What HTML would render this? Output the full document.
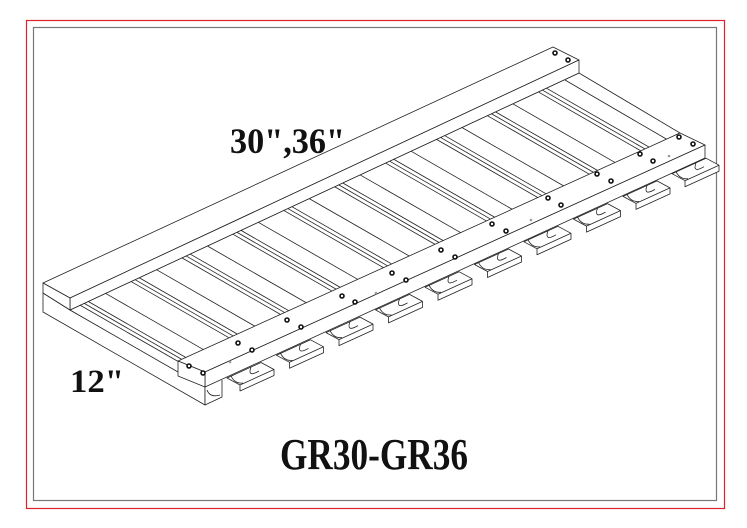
<!DOCTYPE html>
<html><head><meta charset="utf-8"><style>
html,body{margin:0;padding:0;background:#fff;}
svg{display:block;}
text{font-family:"Liberation Serif",serif;font-weight:bold;fill:#111;}
</style></head><body>
<svg width="747" height="528" viewBox="0 0 747 528" xmlns="http://www.w3.org/2000/svg">
<defs>
<g id="blk" fill="#fff" stroke="#222" stroke-width="0.8" stroke-linejoin="round">
<polygon points="0,0 13,7 13,13 47,-2.5 47,-8.5 34,-15.5"/>
<line x1="13" y1="7" x2="47" y2="-8.5"/>
<path d="M24,-11 Q20,0 32,-7" fill="none"/>
<path d="M4,-2 Q8,6 16,5" fill="none"/>
</g>
</defs>
<rect x="26.5" y="20.5" width="698" height="488" fill="none" stroke="#e0202a" stroke-width="1.2"/>
<rect x="33.5" y="27.5" width="683" height="473" fill="none" stroke="#777" stroke-width="1.2"/>
<g fill="#fff" stroke="#222" stroke-width="0.8" stroke-linejoin="round">
<polygon points="43,293 70,310 205,387 205,405 43,312"/>
<polygon points="70,310 579,73 680,133 178,372"/>
<line x1="565" y1="80" x2="668" y2="140"/>
<g transform="matrix(509,-237,108,62,70,310)">
<path vector-effect="non-scaling-stroke" d="M0.02,0V1M0.028,0V1M0.036,0V1M0.07,0V1
M0.12,0V1M0.128,0V1M0.136,0V1M0.17,0V1
M0.22,0V1M0.228,0V1M0.236,0V1M0.27,0V1
M0.32,0V1M0.328,0V1M0.336,0V1M0.37,0V1
M0.42,0V1M0.428,0V1M0.436,0V1M0.47,0V1
M0.52,0V1M0.528,0V1M0.536,0V1M0.57,0V1
M0.62,0V1M0.628,0V1M0.636,0V1M0.67,0V1
M0.72,0V1M0.728,0V1M0.736,0V1M0.77,0V1
M0.82,0V1M0.828,0V1M0.836,0V1M0.87,0V1
M0.92,0V1M0.928,0V1M0.936,0V1"/>
</g>
<polygon points="43,283 553,47 579,60 70,298"/>
<polygon points="70,298 579,60 579,73 70,310"/>
<polygon points="43,283 70,298 70,310 43,293"/>
</g>
<use href="#blk" x="672" y="173.7"/>
<use href="#blk" x="623" y="196.4"/>
<use href="#blk" x="573.5" y="219.1"/>
<use href="#blk" x="524" y="241.8"/>
<use href="#blk" x="474.5" y="264.5"/>
<use href="#blk" x="425" y="287.2"/>
<use href="#blk" x="375.5" y="309.9"/>
<use href="#blk" x="326" y="332.6"/>
<use href="#blk" x="276.5" y="355.3"/>
<use href="#blk" x="227" y="378"/>
<g fill="#fff" stroke="#222" stroke-width="0.8" stroke-linejoin="round">
<path d="M205,387 L205,405 L222,397 L222,380" />
<path d="M207,390 Q210,398 220,395" fill="none"/>
<polygon points="178,361 680,133 705,145 205,372"/>
<polygon points="205,372 705,145 705,158 205,387"/>
<polygon points="178,361 205,372 205,387 178,376"/>
</g>
<g fill="#fff" stroke="#111" stroke-width="1.6">
<circle cx="555" cy="53" r="2"/><circle cx="568" cy="60" r="2"/>
<circle cx="189" cy="366" r="2"/><circle cx="203" cy="373" r="2"/>
<circle cx="238" cy="343" r="2"/><circle cx="252" cy="350" r="2"/>
<circle cx="287" cy="320" r="2"/><circle cx="301" cy="327" r="2"/>
<circle cx="342" cy="296" r="2"/><circle cx="355" cy="302" r="2"/>
<circle cx="392" cy="273" r="2"/><circle cx="406" cy="280" r="2"/>
<circle cx="441" cy="250" r="2"/><circle cx="455" cy="257" r="2"/>
<circle cx="492" cy="224" r="2"/><circle cx="506" cy="231" r="2"/>
<circle cx="548" cy="198" r="2"/><circle cx="561" cy="205" r="2"/>
<circle cx="597" cy="174" r="2"/><circle cx="611" cy="181" r="2"/>
<circle cx="640" cy="154" r="2"/><circle cx="653" cy="161" r="2"/>
<circle cx="679" cy="137" r="2"/><circle cx="693" cy="144" r="2"/>
</g>
<g fill="#999"><circle cx="230" cy="362" r="1.3"/><circle cx="376" cy="293" r="1.3"/><circle cx="531" cy="220" r="1.3"/><circle cx="669" cy="156" r="1.3"/></g>
<text x="230" y="153" font-size="36" textLength="115" lengthAdjust="spacingAndGlyphs">30",36"</text>
<text x="70" y="392" font-size="33" textLength="54" lengthAdjust="spacingAndGlyphs">12"</text>
<text x="280" y="469" font-size="44" textLength="188" lengthAdjust="spacingAndGlyphs">GR30-GR36</text>
</svg>
</body></html>
